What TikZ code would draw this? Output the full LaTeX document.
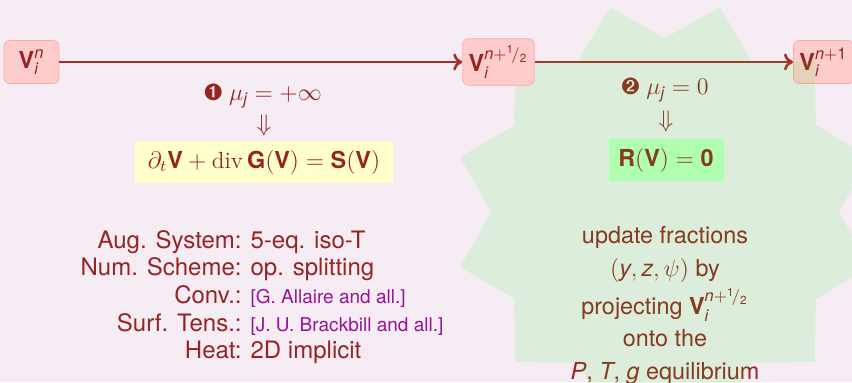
\documentclass[tikz,border=0pt]{standalone}
\usepackage{amsmath,amssymb}
\usepackage{pifont}
\usepackage{fontspec}
\setsansfont{TeX Gyre Heros}
\usepackage{tikz}
\usetikzlibrary{arrows.meta,positioning}

\definecolor{slidebg}{RGB}{246,236,244}
\definecolor{txtred}{RGB}{150,36,36}
\definecolor{arrred}{RGB}{172,44,44}
\definecolor{boxpink}{RGB}{255,204,204}
\definecolor{boxedge}{RGB}{255,170,170}
\definecolor{eqyellow}{RGB}{255,255,204}
\definecolor{eqgreen}{RGB}{196,255,196}
\definecolor{refpurple}{RGB}{150,20,150}

\newcommand{\bv}[1]{\text{\sffamily\bfseries #1}}
\newcommand{\sv}[1]{\text{\sffamily\itshape #1}}
\newcommand{\sd}[1]{\text{\sffamily #1}}
\newcommand{\hlf}{{}^{\sd{1}}\!/{}_{\sd{2}}}
\newcommand{\refcite}[1]{{\fontsize{9.5}{12}\selectfont\color{refpurple}[#1]}}

\pgfdeclarelayer{glass}
\pgfdeclarelayer{front}
\pgfsetlayers{main,glass,front}

\begin{document}
\begin{tikzpicture}[
  x=0.5pt, y=-0.5pt,
  every node/.style={font=\sffamily\fontsize{11.7}{13.6}\selectfont, text=txtred},
  statebox/.style={rectangle, draw=boxedge, fill=boxpink, rounded corners=3pt,
    minimum height=21.5pt, minimum width=27.5pt, inner xsep=3pt},
  eqbox/.style={rectangle, minimum height=21pt, inner xsep=4pt},
  arr/.style={-{To[length=4.5pt,width=8.5pt]}, draw=arrred, line width=1.3pt},
]
\useasboundingbox (0,0) rectangle (852,382);
\fill[slidebg] (0,0) rectangle (852,382);

% States
\node[statebox] (vn) at (31.5,62) {$\bv{V}_{\sv{i}}^{\sv{n}}$};
\node[statebox, anchor=west] (vnp) at (793,62) {$\bv{V}_{\sv{i}}^{\sv{n}+\sd{1}}$};
\begin{pgfonlayer}{front}
\node[statebox] (vh) at (498.5,62) {$\bv{V}_{\sv{i}}^{\sv{n}+\hlf}$};
\end{pgfonlayer}

% Arrows
\draw[arr] (vn) -- (vh);
\draw[arr] (vh) -- (vnp);

% Step 1
\node (mu1) at (263,96) {\ding{202}~$\mu_{\sv{j}} = +\infty$};
\node (imp1) at (264,125) {$\Downarrow$};
\node[eqbox, fill=eqyellow, minimum width=129pt] (eq1) at (264,162)
  {$\partial_t\bv{V} + \operatorname{div}\bv{G}(\bv{V}) = \bv{S}(\bv{V})$};

% Step 2
\node (mu2) at (665,90) {\ding{203}~$\mu_{\sv{j}} = 0$};
\node (imp2) at (666,121) {$\Downarrow$};
\node[eqbox, fill=eqgreen, minimum width=57.5pt] (eq2) at (666,160)
  {$\bv{R}(\bv{V}) = \bv{0}$};

% Setup list
\node[font=\sffamily\fontsize{12}{13.8}\selectfont] (setup) at (262,298) {%
  \begin{tabular}{@{}r@{\hspace{4.5pt}}l@{}}
    Aug. System: & 5-eq. iso-T\\
    Num. Scheme: & op. splitting\\
    Conv.: & \refcite{G. Allaire and all.}\\
    Surf. Tens.: & \refcite{J. U. Brackbill and all.}\\
    Heat: & 2D implicit
  \end{tabular}};

% Projection
\node[align=center, anchor=north, font=\sffamily\fontsize{11.7}{16.2}\selectfont] (proj) at (665,219)
  {update fractions\\[0.6pt]
   $(\sv{y},\sv{z},\psi)$ by\\[2.5pt]
   projecting $\bv{V}_{\sv{i}}^{\sv{n}+\hlf}$\\
   onto the\\
   $\sv{P}$, $\sv{T}$, $\sv{g}$ equilibrium};

% Starburst
\begin{pgfonlayer}{glass}
\begin{scope}
\clip (0,0) rectangle (852,382);
\fill[green, fill opacity=0.1, shift={(665,212)}] (0:174)
  \foreach \k in {0,...,11} { -- ({30*\k+15}:212) -- ({30*\k+30}:174) } -- cycle;
\end{scope}
\end{pgfonlayer}

\end{tikzpicture}
\end{document}
